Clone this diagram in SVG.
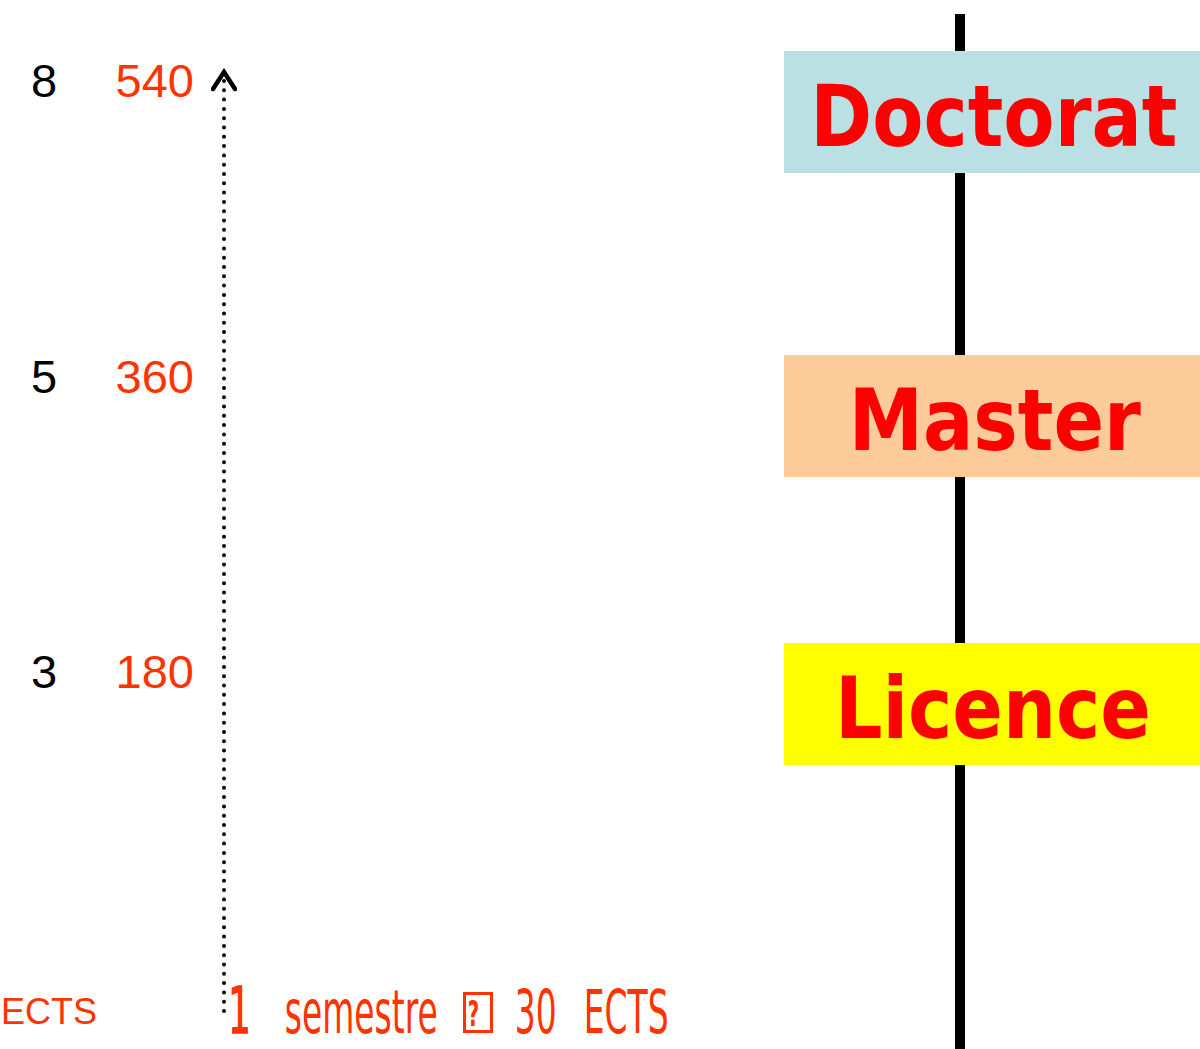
<svg xmlns="http://www.w3.org/2000/svg" width="1200" height="1049" viewBox="0 0 1200 1049">
<defs>
<style>
.lvl{font-family:"Liberation Sans",Arial,sans-serif;font-size:47px;fill:#000}
.ects{font-family:"Liberation Sans",Arial,sans-serif;font-size:47px;fill:#FF3300}
.big{font-family:"DejaVu Sans",Verdana,sans-serif;font-weight:bold;font-size:86px;fill:#FF0000;text-anchor:middle}
.cond{font-family:"DejaVu Sans Condensed","DejaVu Sans",sans-serif;font-size:60px;fill:#FF3300}
</style>
<marker id="chev" viewBox="-20 -13 24 26" markerWidth="24" markerHeight="26" refX="0" refY="0" orient="auto" markerUnits="userSpaceOnUse">
<path d="M-17,-11 L0,0 L-17,11" fill="none" stroke="#000" stroke-width="4.5" stroke-linecap="round" stroke-linejoin="miter"/>
</marker>
</defs>
<rect width="1200" height="1049" fill="#fff"/>
<g id="connectors">
<line x1="960" y1="14" x2="960" y2="1049" stroke="#000" stroke-width="10"/>
<path d="M224,1011 L224,72" fill="none" stroke="#000" stroke-width="4" stroke-linecap="round" stroke-dasharray="0 9.3" marker-end="url(#chev)"/>
</g>
<g id="doctorat">
<rect x="784" y="51" width="416" height="122" fill="#BAE0E3"/>
<text class="big" transform="scale(0.868,1)" x="1145" y="146">Doctorat</text>
</g>
<g id="master">
<rect x="784" y="355" width="416" height="122" fill="#FDCA99"/>
<text class="big" transform="scale(0.868,1)" x="1146" y="450">Master</text>
</g>
<g id="licence">
<rect x="784" y="643" width="416" height="122" fill="#FFFF00"/>
<text class="big" transform="scale(0.868,1)" x="1144" y="738">Licence</text>
</g>
<g id="scale">
<text class="lvl" x="31" y="97">8</text>
<text class="ects" x="194" y="97" text-anchor="end">540</text>
<text class="lvl" x="31" y="393">5</text>
<text class="ects" x="194" y="393" text-anchor="end">360</text>
<text class="lvl" x="31" y="688">3</text>
<text class="ects" x="194" y="688" text-anchor="end">180</text>
<text class="ects" x="1" y="1024" style="font-size:36px">ECTS</text>
</g>
<g id="caption">
<rect x="464.5" y="993.5" width="27" height="38" fill="none" stroke="#FF3300" stroke-width="3"/>
<text class="cond" transform="scale(0.61,1)" y="1033"><tspan x="374" style="font-size:64px;stroke:#FF3300;stroke-width:1.5">1 </tspan><tspan x="467">semestre </tspan><tspan x="767" y="1026" style="font-size:36px;font-weight:bold">? </tspan><tspan x="844" y="1033">30 </tspan><tspan x="957">ECTS</tspan></text>
</g>
</svg>
